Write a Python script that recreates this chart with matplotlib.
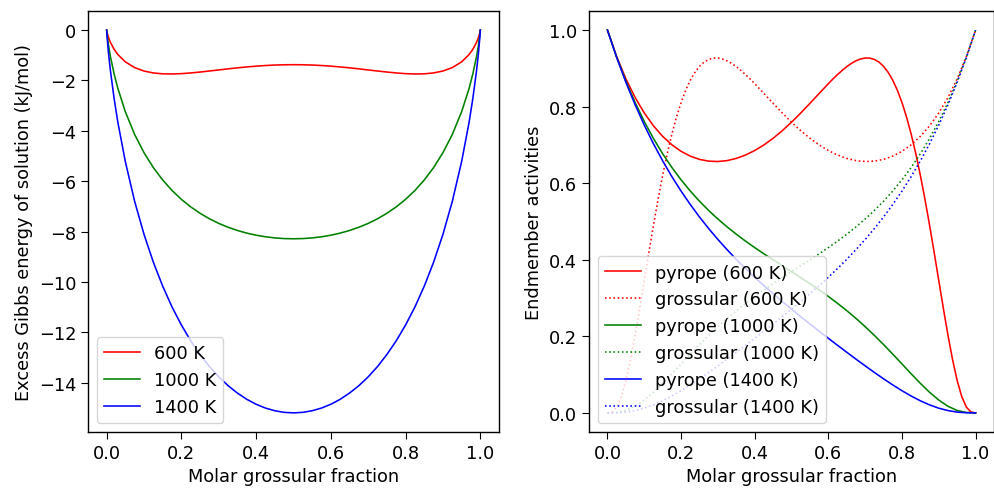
import matplotlib
matplotlib.use("Agg")
import matplotlib.pyplot as plt

# left panel: excess Gibbs energy (kJ/mol) vs molar grossular fraction
x_gibbs = [0.0, 0.001, 0.005, 0.01, 0.02, 0.03, 0.05, 0.075, 0.1, 0.125, 0.15, 0.175,
           0.2, 0.225, 0.25, 0.275, 0.3, 0.325, 0.35, 0.375, 0.4, 0.425, 0.45, 0.475,
           0.5,
           0.525, 0.55, 0.575, 0.6, 0.625, 0.65, 0.675, 0.7, 0.725, 0.75, 0.775, 0.8,
           0.825, 0.85, 0.875, 0.9, 0.925, 0.95, 0.97, 0.98, 0.99, 0.995, 0.999, 1.0]
g_600 = [0.0, -0.082, -0.292, -0.482, -0.761, -0.970, -1.261, -1.489, -1.625, -1.701,
         -1.736, -1.742, -1.729, -1.701, -1.665, -1.624, -1.582, -1.539, -1.498, -1.463,
         -1.431, -1.406, -1.387, -1.377,
         -1.373,
         -1.377, -1.387, -1.406, -1.431, -1.463, -1.498, -1.539, -1.582, -1.624, -1.665,
         -1.701, -1.729, -1.742, -1.736, -1.701, -1.625, -1.489, -1.261, -0.970, -0.761,
         -0.482, -0.292, -0.082, 0.0]
g_1000 = [0.0, -0.161, -0.606, -1.040, -1.739, -2.315, -3.241, -4.147, -4.869, -5.460,
          -5.953, -6.369, -6.721, -7.021, -7.275, -7.493, -7.677, -7.830, -7.958, -8.063,
          -8.146, -8.209, -8.253, -8.280,
          -8.288,
          -8.280, -8.253, -8.209, -8.146, -8.063, -7.958, -7.830, -7.677, -7.493, -7.275,
          -7.021, -6.721, -6.369, -5.953, -5.460, -4.869, -4.147, -3.241, -2.315, -1.739,
          -1.040, -0.606, -0.161, 0.0]
g_1400 = [0.0, -0.240, -0.920, -1.599, -2.717, -3.660, -5.221, -6.805, -8.112, -9.219,
          -10.170, -10.996, -11.714, -12.340, -12.885, -13.361, -13.772, -14.122, -14.417,
          -14.664, -14.861, -15.012, -15.118, -15.183,
          -15.203,
          -15.183, -15.118, -15.012, -14.861, -14.664, -14.417, -14.122, -13.772, -13.361,
          -12.885, -12.340, -11.714, -10.996, -10.170, -9.219, -8.112, -6.805, -5.221,
          -3.660, -2.717, -1.599, -0.920, -0.240, 0.0]

# right panel: endmember activities
x_act = [0.0, 0.025, 0.05, 0.075, 0.1, 0.125, 0.15, 0.175, 0.2, 0.225, 0.25, 0.275,
         0.3, 0.325, 0.35, 0.375, 0.4, 0.425, 0.45, 0.475, 0.5, 0.525, 0.55, 0.575,
         0.6, 0.625, 0.65, 0.675, 0.7, 0.725, 0.75, 0.775, 0.8, 0.825, 0.85, 0.875,
         0.9, 0.925, 0.95, 0.975, 1.0]

# 600 K curves are steep, so they are read on a finer grid where they bend
x_py_600 = [0.0, 0.025, 0.05, 0.075, 0.1, 0.125, 0.15, 0.175, 0.2, 0.225, 0.25, 0.275,
            0.3, 0.325, 0.35, 0.375, 0.4, 0.425, 0.45, 0.475, 0.5, 0.525, 0.55, 0.575,
            0.6, 0.6125, 0.625, 0.6375, 0.65, 0.6625, 0.675, 0.6875, 0.7, 0.7125, 0.725,
            0.7375, 0.75, 0.7625, 0.775, 0.7875, 0.8, 0.8125, 0.825, 0.8375, 0.85,
            0.8625, 0.875, 0.8875, 0.9, 0.9125, 0.925, 0.9375, 0.95, 0.9625, 0.975,
            0.9875, 1.0]
py_600 = [1.0, 0.9311, 0.8730, 0.8242, 0.7836, 0.7499, 0.7224, 0.7004, 0.6833, 0.6708,
          0.6623, 0.6577, 0.6567, 0.6591, 0.6648, 0.6736, 0.6854, 0.7000, 0.7174,
          0.7373, 0.7594, 0.7834, 0.8086, 0.8345, 0.8600, 0.8723, 0.8839, 0.8947,
          0.9045, 0.9130, 0.9198, 0.9246, 0.9271, 0.9269, 0.9234, 0.9165, 0.9054,
          0.8897, 0.8691, 0.8429, 0.8109, 0.7728, 0.7282, 0.6775, 0.6206, 0.5578,
          0.4902, 0.4189, 0.3457, 0.2727, 0.2027, 0.1388, 0.0843, 0.0422, 0.0149,
          0.0022, 0.0]
x_gr_600 = [0.0, 0.0125, 0.025, 0.0375, 0.05, 0.0625, 0.075, 0.0875, 0.1, 0.1125, 0.125,
            0.1375, 0.15, 0.1625, 0.175, 0.1875, 0.2, 0.2125, 0.225, 0.2375, 0.25,
            0.2625, 0.275, 0.2875, 0.3, 0.3125, 0.325, 0.3375, 0.35, 0.3625, 0.375,
            0.3875, 0.4, 0.425, 0.45, 0.475, 0.5, 0.525, 0.55, 0.575, 0.6, 0.625, 0.65,
            0.675, 0.7, 0.725, 0.75, 0.775, 0.8, 0.825, 0.85, 0.875, 0.9, 0.925, 0.95,
            0.975, 1.0]
gr_600 = [0.0, 0.0022, 0.0149, 0.0422, 0.0843, 0.1388, 0.2027, 0.2727, 0.3457, 0.4189,
          0.4902, 0.5578, 0.6206, 0.6775, 0.7282, 0.7728, 0.8109, 0.8429, 0.8691,
          0.8897, 0.9054, 0.9165, 0.9234, 0.9269, 0.9271, 0.9246, 0.9198, 0.9130,
          0.9045, 0.8947, 0.8839, 0.8723, 0.8600, 0.8345, 0.8086, 0.7834, 0.7594,
          0.7373, 0.7174, 0.7000, 0.6854, 0.6736, 0.6648, 0.6591, 0.6567, 0.6577,
          0.6623, 0.6708, 0.6833, 0.7004, 0.7224, 0.7499, 0.7836, 0.8242, 0.8730,
          0.9311, 1.0]
py_1000 = [1.0, 0.9294, 0.8667, 0.8110, 0.7613, 0.7168, 0.6770, 0.6411, 0.6088, 0.5796,
           0.5530, 0.5287, 0.5065, 0.4859, 0.4668, 0.4488, 0.4318, 0.4156, 0.3999,
           0.3844, 0.3690, 0.3535, 0.3377, 0.3213, 0.3042, 0.2862, 0.2671, 0.2469,
           0.2253, 0.2025, 0.1785, 0.1535, 0.1278, 0.1021, 0.0771, 0.0538, 0.0334,
           0.0172, 0.0062, 0.0010, 0.0]
gr_1000 = [0.0, 0.0010, 0.0062, 0.0172, 0.0334, 0.0538, 0.0771, 0.1021, 0.1278, 0.1535,
           0.1785, 0.2025, 0.2253, 0.2469, 0.2671, 0.2862, 0.3042, 0.3213, 0.3377,
           0.3535, 0.3690, 0.3844, 0.3999, 0.4156, 0.4318, 0.4488, 0.4668, 0.4859,
           0.5065, 0.5287, 0.5530, 0.5796, 0.6088, 0.6411, 0.6770, 0.7168, 0.7613,
           0.8110, 0.8667, 0.9294, 1.0]
py_1400 = [1.0, 0.9287, 0.8640, 0.8053, 0.7519, 0.7031, 0.6584, 0.6173, 0.5794, 0.5444,
           0.5118, 0.4815, 0.4531, 0.4264, 0.4011, 0.3772, 0.3543, 0.3324, 0.3112,
           0.2908, 0.2709, 0.2514, 0.2323, 0.2134, 0.1949, 0.1765, 0.1584, 0.1405,
           0.1229, 0.1057, 0.0890, 0.0730, 0.0579, 0.0440, 0.0315, 0.0209, 0.0122,
           0.0060, 0.0020, 0.0003, 0.0]
gr_1400 = [0.0, 0.0003, 0.0020, 0.0060, 0.0122, 0.0209, 0.0315, 0.0440, 0.0579, 0.0730,
           0.0890, 0.1057, 0.1229, 0.1405, 0.1584, 0.1765, 0.1949, 0.2134, 0.2323,
           0.2514, 0.2709, 0.2908, 0.3112, 0.3324, 0.3543, 0.3772, 0.4011, 0.4264,
           0.4531, 0.4815, 0.5118, 0.5444, 0.5794, 0.6173, 0.6584, 0.7031, 0.7519,
           0.8053, 0.8640, 0.9287, 1.0]

temps = ["600 K", "1000 K", "1400 K"]
colors = ["red", "green", "blue"]

plt.rcParams.update({
    "font.size": 12.8,
    "lines.linewidth": 1.15,
    "axes.linewidth": 1.0,
    "xtick.major.size": 5,
    "ytick.major.size": 5,
})

fig = plt.figure(figsize=(9.95, 4.89), dpi=100)
ax1 = fig.add_axes([0.0884, 0.1145, 0.4131, 0.861])
ax2 = fig.add_axes([0.592, 0.1145, 0.407, 0.861])

for g, c, t in zip([g_600, g_1000, g_1400], colors, temps):
    ax1.plot(x_gibbs, g, color=c, label=t)
ax1.set_xlabel("Molar grossular fraction")
ax1.set_ylabel("Excess Gibbs energy of solution (kJ/mol)")
ax1.legend(loc="lower left")

curves = [
    (x_py_600, py_600, x_gr_600, gr_600),
    (x_act, py_1000, x_act, gr_1000),
    (x_act, py_1400, x_act, gr_1400),
]
for (xp, py, xg, gr), c, t in zip(curves, colors, temps):
    ax2.plot(xp, py, color=c, label=f"pyrope ({t})")
    ax2.plot(xg, gr, color=c, linestyle=":", label=f"grossular ({t})")
ax2.set_xlabel("Molar grossular fraction")
ax2.set_ylabel("Endmember activities")
ax2.legend(loc="lower left")

fig.savefig("out.png", dpi=100)
